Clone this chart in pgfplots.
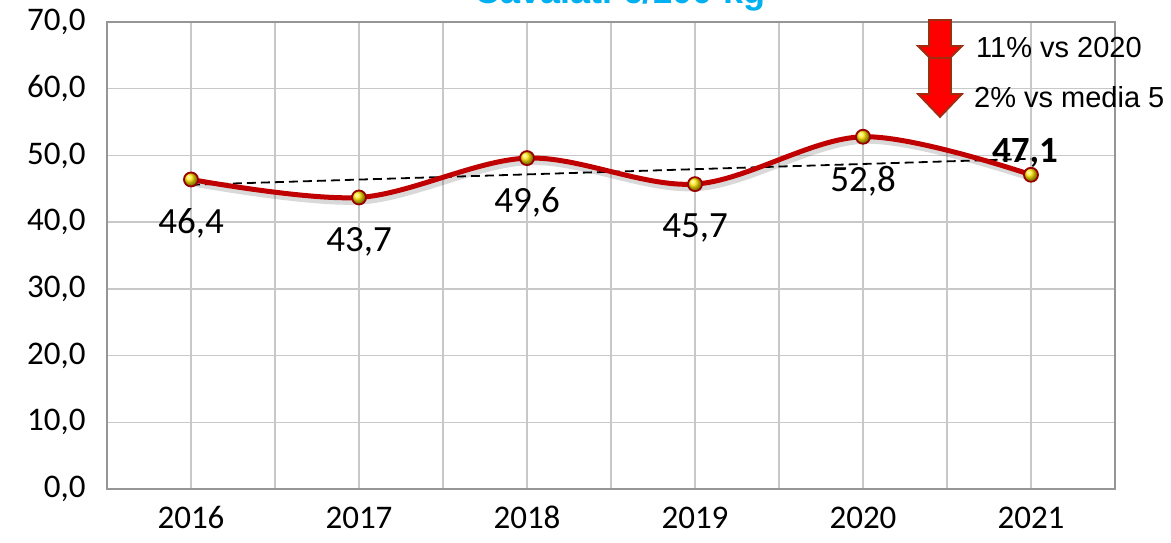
\documentclass[border=0pt]{standalone}
\usepackage{pgfplots}
\pgfplotsset{compat=1.18}
\usepackage{fontspec}
\setmainfont{Carlito}
\newfontfamily\arialfont{Liberation Sans}
\definecolor{linered}{RGB}{192,0,0}
\definecolor{titleblue}{RGB}{0,176,240}
\definecolor{gridgray}{RGB}{200,200,200}
\definecolor{axisgray}{RGB}{150,150,150}
\definecolor{arrowred}{RGB}{255,0,0}
\definecolor{arrowedge}{RGB}{160,45,15}
\pgfplotstableread{
x y
0 46.4
1 43.7
2 49.6
3 45.7
4 52.8
5 47.1
}\maindata
\pgfplotstableread{
x y
0 46.4
1 43.7
2 49.6
3 45.7
4 52.8
}\labdata
\begin{document}
\begin{tikzpicture}
\useasboundingbox (-107pt,-53pt) rectangle (1064pt,489pt);
\begin{axis}[
  at={(0pt,0pt)}, anchor=south west,
  scale only axis, width=1008pt, height=467pt,
  xmin=-0.5, xmax=5.5, ymin=0, ymax=70,
  xtick={0,1,2,3,4,5},
  xticklabels={2016,2017,2018,2019,2020,2021},
  minor xtick={-0.5,0.5,1.5,2.5,3.5,4.5,5.5},
  ytick={0,10,20,30,40,50,60,70},
  xmajorgrids, xminorgrids, ymajorgrids,
  grid style={gridgray, line width=1.5pt},
  minor grid style={gridgray, line width=1.5pt},
  axis line style={axisgray, line width=1.5pt},
  major tick length=0pt, minor tick length=0pt,
  tick label style={font=\fontsize{33}{36}\selectfont, black},
  yticklabel style={xshift=-18pt},
  xticklabel style={anchor=north, yshift=-14pt, text height=22pt, text depth=6pt},
  /pgf/number format/.cd, fixed, fixed zerofill, precision=1, use comma, assume math mode=true,
  /pgfplots/.cd,
  clip=false,
]
% trend line
\addplot[black, line width=1.8pt, dash pattern=on 9pt off 5pt] coordinates {(0,45.6) (5,49.5)};
% shadow
\addplot[black, opacity=0.15, line width=6pt, smooth, tension=0.55, yshift=-4pt, xshift=2pt, forget plot] table[x=x,y=y] {\maindata};
% main curve
\addplot[linered, line width=5pt, smooth, tension=0.55, mark=none] table[x=x,y=y] {\maindata};
% markers
\addplot[only marks, mark=ball, mark size=7pt, mark options={ball color=yellow!80!orange}] table[x=x,y=y] {\maindata};
\addplot[only marks, mark=o, mark size=7pt, mark options={draw=linered!80!black, line width=1.8pt}] table[x=x,y=y] {\maindata};
% data labels
\addplot[draw=none, mark=none, nodes near coords,
  nodes near coords style={anchor=center, yshift=-44pt, font=\fontsize{37}{40}\selectfont, black,
   /pgf/number format/.cd, fixed, fixed zerofill, precision=1, use comma, assume math mode=true}]
  table[x=x,y=y] {\labdata};
\addplot[draw=none, mark=none, nodes near coords,
  nodes near coords style={anchor=center, yshift=22pt, xshift=-6pt, font=\bfseries\fontsize{37}{40}\selectfont, black,
   /pgf/number format/.cd, fixed, fixed zerofill, precision=1, use comma, assume math mode=true}]
  coordinates {(5,47.1)};
\end{axis}
% title (cut at top)
\node[anchor=base, text=titleblue, font=\arialfont\bfseries\fontsize{36}{40}\selectfont] at (513pt,485pt) {Cavalati €/100 kg};
% arrows
\filldraw[fill=arrowred, draw=arrowedge, line width=1.8pt]
  (822pt,469pt) -- (844pt,469pt) -- (844pt,443pt) -- (855pt,443pt) -- (833pt,421pt) -- (811pt,443pt) -- (822pt,443pt) -- cycle;
\filldraw[fill=arrowred, draw=arrowedge, line width=1.8pt]
  (822pt,431pt) -- (844pt,431pt) -- (844pt,395pt) -- (855pt,395pt) -- (833pt,372pt) -- (811pt,395pt) -- (822pt,395pt) -- cycle;
\node[anchor=west, inner sep=0pt, font=\arialfont\fontsize{29}{32}\selectfont] at (869pt,441pt) {11\% vs 2020};
\node[anchor=west, inner sep=0pt, font=\arialfont\fontsize{29}{32}\selectfont] at (867pt,392pt) {2\% vs media 5};
\end{tikzpicture}
\end{document}
